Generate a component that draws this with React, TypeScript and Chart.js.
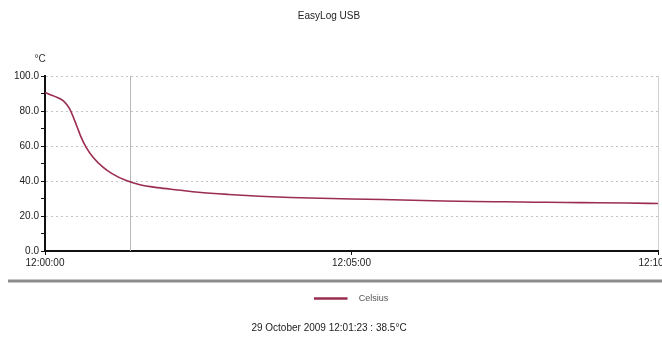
import React, { useEffect, useRef } from "react";
import { Chart, registerables } from "chart.js";

Chart.register(...registerables);

// Elapsed seconds since 12:00:00 and temperature in °C
const timesSec = [0, 9, 18, 24, 31, 35, 40, 47, 57, 66, 79, 92, 110, 130, 150, 180, 210, 240, 270, 300, 330, 360, 390, 420, 450, 480, 510, 540, 570, 600];
const celsius = [90.6, 88.5, 85.8, 81.3, 71.6, 65.5, 59.5, 53.6, 47.8, 44.1, 40.4, 38.0, 36.2, 34.9, 33.6, 32.3, 31.3, 30.6, 30.1, 29.7, 29.4, 29.0, 28.6, 28.3, 28.1, 27.9, 27.7, 27.6, 27.4, 27.1];
const xTickLabels: Record<number, string> = { 0: "12:00:00", 300: "12:05:00", 600: "12:10:00" };
const cursorSec = 83;
const titleText = "EasyLog USB";
const unitText = "°C";
const seriesName = "Celsius";
const footerText = "29 October 2009 12:01:23 : 38.5°C";

const FONT = "'Liberation Sans', Arial, sans-serif";
const LINE_COLOR = "#9b2d4f";

export default function App() {
  const ref = useRef<HTMLCanvasElement | null>(null);

  useEffect(() => {
    if (!ref.current) return;
    const decor = {
      id: "decor",
      beforeDatasetsDraw(chart: any) {
        const ctx = chart.ctx;
        const xs = chart.scales.x;
        const area = chart.chartArea;
        const cx = xs.getPixelForValue(cursorSec);
        ctx.save();
        ctx.strokeStyle = "#b8b8b8";
        ctx.lineWidth = 1;
        ctx.beginPath();
        ctx.moveTo(Math.round(cx) + 0.5, area.top);
        ctx.lineTo(Math.round(cx) + 0.5, area.bottom);
        ctx.stroke();
        ctx.restore();
      },
      afterDraw(chart: any) {
        const ctx = chart.ctx;
        const xs = chart.scales.x;
        const area = chart.chartArea;
        ctx.save();
        ctx.strokeStyle = "#8c8c8c";
        ctx.lineWidth = 3;
        ctx.beginPath();
        ctx.moveTo(8, xs.bottom);
        ctx.lineTo(chart.width, xs.bottom);
        ctx.stroke();
        ctx.fillStyle = "#333";
        ctx.font = "10px " + FONT;
        ctx.textAlign = "center";
        ctx.textBaseline = "middle";
        ctx.fillText(unitText, area.left - 5, area.top - 17);
        ctx.restore();
      },
    };

    const chart = new Chart(ref.current, {
      type: "line",
      data: {
        datasets: [
          {
            label: seriesName,
            data: timesSec.map((t, i) => ({ x: t, y: celsius[i] })),
            borderColor: LINE_COLOR,
            backgroundColor: LINE_COLOR,
            borderWidth: 1.6,
            pointRadius: 0,
            cubicInterpolationMode: "monotone",
          },
        ],
      },
      options: {
        responsive: false,
        animation: false,
        layout: { padding: { left: 0, right: 32, top: 0, bottom: 0 } },
        plugins: {
          title: {
            display: true,
            text: titleText,
            color: "#222",
            font: { family: FONT, size: 10, weight: "normal" },
            padding: { top: 10, bottom: 54 },
          },
          subtitle: {
            display: true,
            position: "bottom",
            text: footerText,
            color: "#222",
            font: { family: FONT, size: 10, weight: "normal" },
            padding: { top: 9, bottom: 3 },
          },
          legend: {
            display: true,
            position: "bottom",
            fullSize: false,
            labels: {
              boxWidth: 32,
              boxHeight: 1,
              padding: 13,
              color: "#555",
              font: { family: FONT, size: 9 },
              generateLabels: (c: any) => {
                const items = Chart.defaults.plugins.legend.labels.generateLabels(c);
                return items.map((it: any) => ({ ...it, text: "   " + it.text }));
              },
            },
          },
          tooltip: { enabled: false },
        },
        scales: {
          x: {
            type: "linear",
            min: 0,
            max: 600,
            afterFit: (s: any) => {
              s.height = 30;
            },
            border: { display: true, color: "#111", width: 2 },
            grid: {
              color: (c: any) => (c.tick && c.tick.value === 600 ? "#d0d0d0" : "rgba(0,0,0,0)"),
              tickColor: "#111",
              tickLength: 4,
            },
            ticks: {
              stepSize: 300,
              autoSkip: false,
              maxRotation: 0,
              color: "#222",
              padding: 2,
              font: { family: FONT, size: 10 },
              callback: (v: any) => xTickLabels[Number(v)] ?? "",
            },
          },
          y: {
            min: 0,
            max: 100,
            afterFit: (s: any) => {
              s.width = 45;
            },
            border: { display: true, color: "#111", width: 2, dash: [2, 3] },
            grid: {
              color: (c: any) =>
                c.tick && c.tick.value % 20 === 0 && c.tick.value !== 0 ? "#c4c4c4" : "rgba(0,0,0,0)",
              tickColor: "#111",
              tickLength: 4,
              tickBorderDash: [],
            },
            ticks: {
              stepSize: 10,
              autoSkip: false,
              color: "#222",
              padding: 2,
              font: { family: FONT, size: 10 },
              callback: (v: any) => (Number(v) % 20 === 0 ? Number(v).toFixed(1) : ""),
            },
          },
        },
      },
      plugins: [decor],
    } as any);

    return () => chart.destroy();
  }, []);

  return (
    <div
      style={{
        position: "fixed",
        left: 0,
        top: 0,
        width: 662,
        height: 337,
        overflow: "hidden",
        background: "#fff",
      }}
    >
      <canvas ref={ref} width={690} height={337} style={{ display: "block" }} />
    </div>
  );
}
